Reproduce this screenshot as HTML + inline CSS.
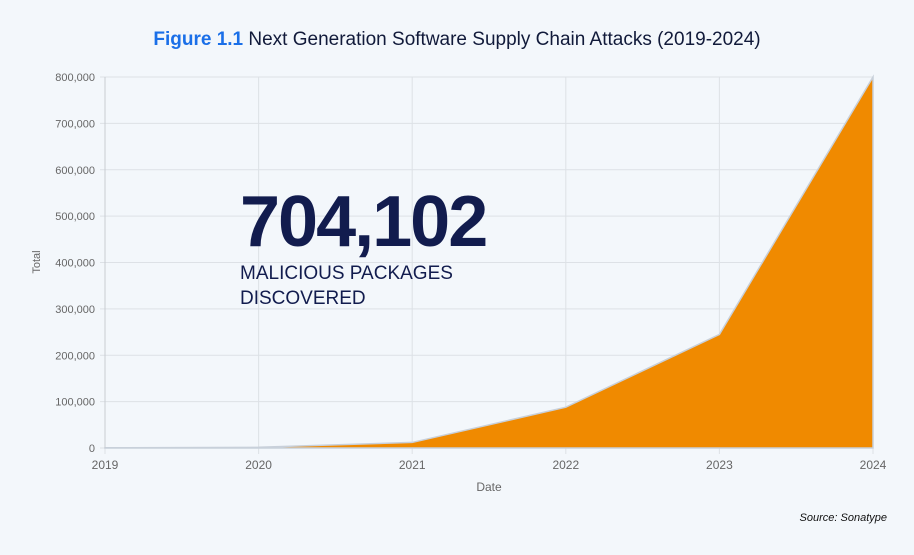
<!DOCTYPE html>
<html><head><meta charset="utf-8"><style>
body{margin:0;background:#f3f7fb;}
svg text{font-family:"Liberation Sans",sans-serif;}
</style></head><body>
<svg width="914" height="550" viewBox="0 0 914 550">
<rect width="914" height="550" fill="#f3f7fb"/>
<text x="457" y="45" text-anchor="middle" font-size="19" font-weight="bold" fill="#111a3a"><tspan fill="#1a6fe8">Figure 1.1</tspan><tspan font-weight="normal"> Next Generation Software Supply Chain Attacks (2019-2024)</tspan></text>
<g id="grid"></g>
<g id="area"></g>
<g id="axes"></g>
<text x="240" y="246" font-size="72" font-weight="bold" fill="#121c4e" letter-spacing="-2">704,102</text>
<text x="240" y="279" font-size="19" fill="#121c4e">MALICIOUS PACKAGES</text>
<text x="240" y="304" font-size="19" fill="#121c4e">DISCOVERED</text>
<text x="40" y="262" font-size="11" fill="#666" text-anchor="middle" transform="rotate(-90 40 262)">Total</text>
<text x="489" y="491" font-size="12" fill="#666" text-anchor="middle">Date</text>
<text x="887" y="521" font-size="11" font-style="italic" fill="#111" text-anchor="end">Source: Sonatype</text>
</svg>
<script>
const years=["2019","2020","2021","2022","2023","2024"];
const totals=[500,1500,12000,88000,245000,800000];
const yTicks=[0,100000,200000,300000,400000,500000,600000,700000,800000];
const NS="http://www.w3.org/2000/svg";
const x0=105,x1=873,yb=448,yt=77,ymax=800000;
const xs=i=>x0+(x1-x0)*i/(years.length-1);
const ys=v=>yb-(yb-yt)*v/ymax;
function mk(t,a,p){const e=document.createElementNS(NS,t);for(const k in a)e.setAttribute(k,a[k]);p.appendChild(e);return e;}
const grid=document.getElementById('grid'),axes=document.getElementById('axes'),area=document.getElementById('area');
yTicks.forEach(v=>{
 const l=mk('line',{x1:x0-5,x2:x1,y1:ys(v),y2:ys(v),stroke:'#dde1e6','stroke-width':1},grid);
 
 
 const t=mk('text',{x:x0-10,y:ys(v)+4,'text-anchor':'end','font-size':11,fill:'#666'},axes);
 t.textContent=v.toLocaleString('en-US');
 
 
});
years.forEach((y,i)=>{
 const l=mk('line',{x1:xs(i),x2:xs(i),y1:yt,y2:yb+6,stroke:'#dde1e6','stroke-width':1},grid);
 
 
 const t=mk('text',{x:xs(i),y:yb+21,'text-anchor':'middle','font-size':12,fill:'#666'},axes);
 t.textContent=y;
 
 
});
let d='M'+xs(0)+','+yb;
totals.forEach((v,i)=>{d+=' L'+xs(i)+','+ys(v);});
d+=' L'+xs(totals.length-1)+','+yb+' Z';
const p=mk('path',{d:d,fill:'#f08a00',stroke:'#c8d0da','stroke-width':1.5},area);


const ax=mk('line',{x1:x0,x2:x0,y1:yt,y2:yb,stroke:'#c8ccd2'},axes);


</script>
</body></html>
